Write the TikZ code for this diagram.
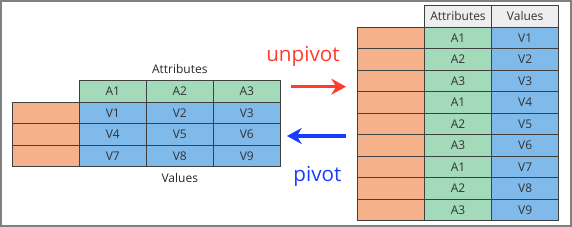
\documentclass[tikz,border=0pt]{standalone}
\usepackage{fontspec}
\setmainfont{Open Sans}
\usepackage{xcolor}
\usepackage{tikz}
\usetikzlibrary{positioning,arrows.meta}

\definecolor{keyorange}{RGB}{245,178,138}
\definecolor{attrgreen}{RGB}{163,218,185}
\definecolor{valblue}{RGB}{128,186,234}
\definecolor{headgrey}{RGB}{238,238,238}
\definecolor{gridline}{RGB}{64,64,64}
\definecolor{framegrey}{RGB}{128,128,128}
\definecolor{unpivred}{RGB}{255,60,45}
\definecolor{pivblue}{RGB}{25,60,255}

\begin{document}
\begin{tikzpicture}[
      x=0.75pt, y=-0.75pt,
      cell/.style={draw=gridline, line width=0.9pt, minimum width=50.25pt, minimum height=16.125pt,
                   inner sep=0pt, outer sep=0pt, anchor=center, font=\fontsize{9}{10}\selectfont,
                   text=black!80},
      keycell/.style={cell, fill=keyorange},
      attrcell/.style={cell, fill=attrgreen},
      valcell/.style={cell, fill=valblue},
      headcell/.style={cell, fill=headgrey},
      lbl/.style={font=\fontsize{9}{10}\selectfont, text=black!85, inner sep=0pt},
      big/.style={font=\fontsize{15.5}{17}\selectfont, inner sep=0pt},
      arr/.style={line width=2.6pt, -{Stealth[length=11pt,width=12pt]}}
    ]
    \useasboundingbox (0,0) rectangle (572,227);
    \draw[framegrey, line width=1.2pt] (0.8,0.8) rectangle (571.2,226.2);

    % wide table
    \foreach \i in {1,2,3} {
      \node[attrcell] (w-a\i) at ({45.8+67*\i},91.5) {A\i};
    }
    \foreach \r/\a/\b/\c [count=\k] in {1/V1/V2/V3, 2/V4/V5/V6, 3/V7/V8/V9} {
      \node[keycell] (w-k\k) at (45.8,{91.5+21.5*\k}) {};
      \node[valcell] (w-v\k a) at (112.8,{91.5+21.5*\k}) {\a};
      \node[valcell] (w-v\k b) at (179.8,{91.5+21.5*\k}) {\b};
      \node[valcell] (w-v\k c) at (246.8,{91.5+21.5*\k}) {\c};
    }
    \node[lbl] (w-attr) [above=5.5pt of w-a2] {Attributes};
    \node[lbl] (w-val)  [below=5pt of w-v3b] {Values};

    % long table
    \node[headcell] (l-ha) at (458,16.5) {Attributes};
    \node[headcell] (l-hv) at (525.2,16.5) {Values};
    \foreach \a [count=\k] in {1,2,3,1,2,3,1,2,3} {
      \node[keycell]  (l-k\k) at (390.8,{16.5+21.5*\k}) {};
      \node[attrcell] (l-a\k) at (458,{16.5+21.5*\k}) {A\a};
      \node[valcell]  (l-v\k) at (525.2,{16.5+21.5*\k}) {V\k};
    }

    % arrows
    \coordinate (u-from) at (291,86.7);
    \coordinate (u-to)   at (346,86.7);
    \coordinate (p-from) at (346,136);
    \coordinate (p-to)   at (287,136);
    \draw[arr, unpivred] (u-from) -- (u-to);
    \draw[arr, pivblue]  (p-from) -- (p-to);
    \node[big, text=unpivred, anchor=base] (unpiv) at (303,61.7) {unpivot};
    \node[big, text=pivblue, anchor=base]  (piv)   at (317.5,181.7) {pivot};
  \end{tikzpicture}
\end{document}
